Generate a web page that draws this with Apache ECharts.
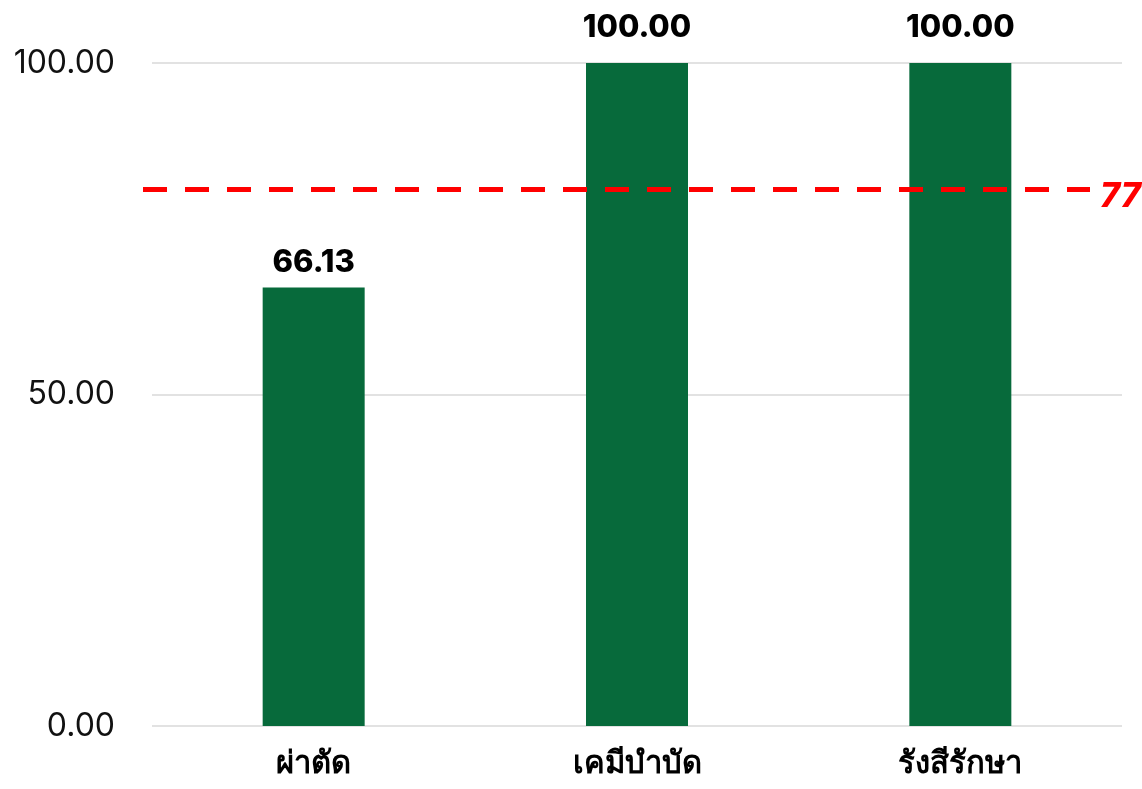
<!DOCTYPE html>
<html lang="th">
<head>
    <meta charset="utf-8">
    <title>chart</title>
    <script src="https://cdn.jsdelivr.net/npm/echarts@6/dist/echarts.min.js"></script>
</head>
<body style="margin:0; background:#fff;">
<div id="main" style="width: 1142px; height: 789px;"></div>
<script type="text/javascript">
    // ข้อมูล
    const categories = ['ผ่าตัด', 'เคมีบำบัด', 'รังสีรักษา'];
    const values = [66.13, 100.00, 100.00];
    const yTicks = [0, 50, 100];
    const targetLine = 81;      // position of the dashed line
    const targetLabel = '77';   // text shown next to it

    const font = "Inter, 'Noto Sans', 'DejaVu Sans', sans-serif";

    let myChart = echarts.init(document.getElementById('main'));
    const option = {
        animation: false,
        textStyle: { fontFamily: font },
        grid: [
            { left: 152, right: 20, top: 63, bottom: 63 },
            { left: 143, right: 52, top: 63, bottom: 63 }
        ],
        xAxis: [{
            type: 'category',
            data: categories,
            gridIndex: 0,
            axisLine: { show: false },
            axisTick: { show: false },
            axisLabel: {
                margin: 22,
                fontSize: 31,
                fontWeight: 800,
                color: '#000',
                fontFamily: font
            }
        }, {
            type: 'value', gridIndex: 1, min: 0, max: 1, show: false
        }],
        yAxis: [{
            type: 'value',
            gridIndex: 0,
            min: yTicks[0],
            max: yTicks[yTicks.length - 1],
            interval: yTicks[1] - yTicks[0],
            axisLine: { show: false },
            axisTick: { show: false },
            axisLabel: {
                margin: 37,
                fontSize: 32,
                color: '#111',
                fontFamily: font,
                formatter: v => v.toFixed(2)
            },
            splitLine: { lineStyle: { color: '#d9d9d9', width: 1.5 } }
        }, {
            type: 'value', gridIndex: 1, min: 0, max: 100, show: false
        }],
        series: [{
            type: 'bar',
            data: values.map(v => ({
                value: v,
                label: { distance: v >= 100 ? 20 : 9 }
            })),
            xAxisIndex: 0,
            yAxisIndex: 0,
            barWidth: 102,
            itemStyle: { color: '#076a3b' },
            label: {
                show: true,
                position: 'top',
                fontSize: 31,
                fontWeight: 800,
                color: '#000',
                fontFamily: font,
                formatter: p => p.value.toFixed(2)
            }
        }, {
            type: 'line',
            data: [],
            xAxisIndex: 1,
            yAxisIndex: 1,
            markLine: {
                silent: true,
                symbol: 'none',
                data: [{ yAxis: targetLine }],
                lineStyle: { color: '#ff0000', type: [24, 18], width: 5 },
                label: {
                    show: true,
                    position: 'end',
                    distance: 10,
                    offset: [0, 8],
                    formatter: targetLabel,
                    color: '#ff0000',
                    fontSize: 34,
                    fontWeight: 800,
                    fontStyle: 'italic',
                    fontFamily: font
                }
            }
        }]
    };
    myChart.setOption(option);
</script>
</body>
</html>
